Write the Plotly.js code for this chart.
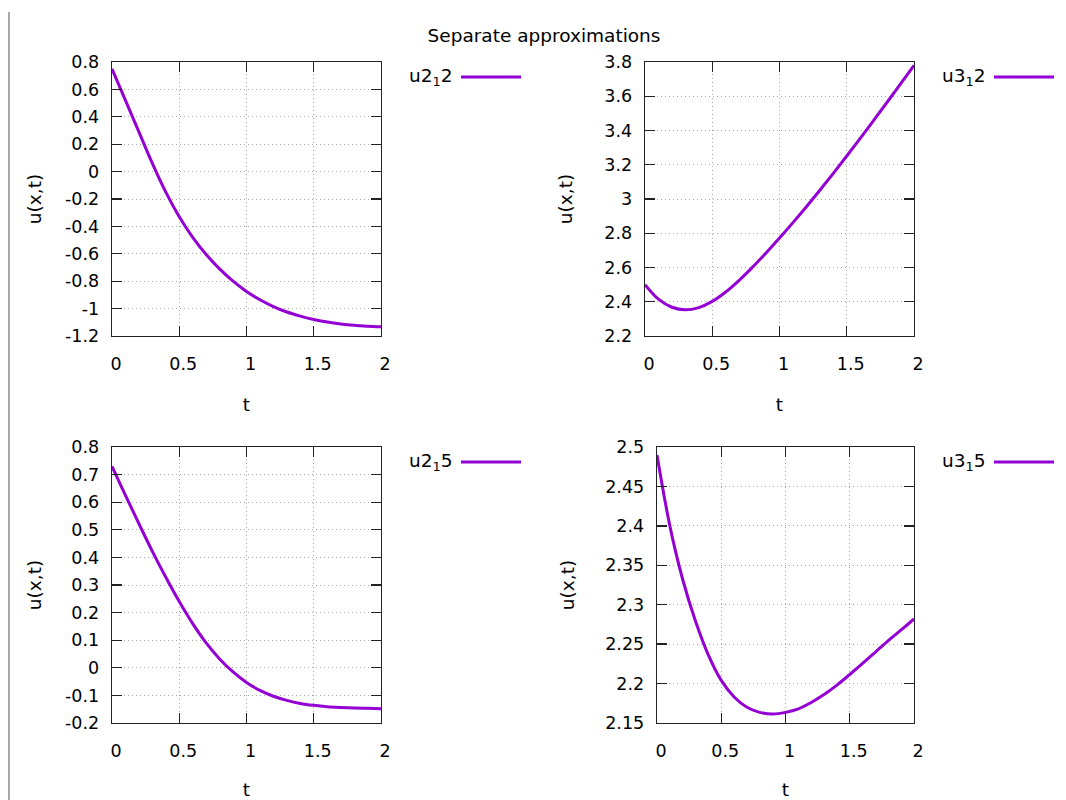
<!DOCTYPE html>
<html>
<head>
<meta charset="utf-8">
<script src="https://cdn.plot.ly/plotly-3.0.1.min.js"></script>
<style>
  html, body { margin: 0; padding: 0; background: #fff; }
  #chart { width: 1066px; height: 800px; }
</style>
</head>
<body>
<div id="chart"></div>
<script>
// time samples shared by all four panels
var t = [0, 0.1, 0.2, 0.3, 0.4, 0.5, 0.6, 0.7, 0.8, 0.9, 1.0,
         1.1, 1.2, 1.3, 1.4, 1.5, 1.6, 1.7, 1.8, 1.9, 2.0];

// values
var u212 = [0.75, 0.52, 0.29, 0.06, -0.15, -0.33, -0.48, -0.605, -0.71, -0.80, -0.875,
            -0.935, -0.985, -1.025, -1.055, -1.08, -1.098, -1.112, -1.122, -1.128, -1.132];
var u312 = [2.50, 2.415, 2.368, 2.353, 2.366, 2.402, 2.457, 2.525, 2.602, 2.685, 2.772,
            2.862, 2.955, 3.051, 3.15, 3.251, 3.354, 3.459, 3.565, 3.672, 3.78];
var u215 = [0.73, 0.625, 0.522, 0.422, 0.328, 0.24, 0.16, 0.09, 0.032, -0.015, -0.053,
            -0.082, -0.103, -0.118, -0.129, -0.136, -0.141, -0.144, -0.146, -0.147, -0.148];
var u315 = [2.490, 2.400, 2.332, 2.279, 2.236, 2.204, 2.183, 2.170, 2.1635, 2.1614, 2.1635,
            2.168, 2.176, 2.186, 2.198, 2.2115, 2.2255, 2.240, 2.2545, 2.268, 2.282];

var xTicks = [0, 0.5, 1, 1.5, 2];
var yTicks212 = [-1.2, -1, -0.8, -0.6, -0.4, -0.2, 0, 0.2, 0.4, 0.6, 0.8];
var yTicks312 = [2.2, 2.4, 2.6, 2.8, 3, 3.2, 3.4, 3.6, 3.8];
var yTicks215 = [-0.2, -0.1, 0, 0.1, 0.2, 0.3, 0.4, 0.5, 0.6, 0.7, 0.8];
var yTicks315 = [2.15, 2.2, 2.25, 2.3, 2.35, 2.4, 2.45, 2.5];

var names = ['u2<sub>1</sub>2', 'u3<sub>1</sub>2', 'u2<sub>1</sub>5', 'u3<sub>1</sub>5'];
var series = [u212, u312, u215, u315];

var W = 1066, H = 800;
function px(x) { return x / W; }
function py(y) { return 1 - y / H; }

var purple = '#9400d3';
var face = 'DejaVu Sans, Verdana, sans-serif';
var fnt = {family: face, size: 18.5, color: '#000'};
var tickFnt = {family: face, size: 17.5, color: '#000'};

var traces = series.map(function (s, i) {
    var n = i === 0 ? '' : String(i + 1);
    return {
        x: t, y: s, name: names[i],
        xaxis: 'x' + n, yaxis: 'y' + n,
        type: 'scatter', mode: 'lines',
        line: {color: purple, width: 3, shape: 'spline', smoothing: 1},
        showlegend: false
    };
});

var common = {
    ticks: 'inside', ticklen: 10, tickwidth: 1.3, tickcolor: '#222',
    showline: true, linecolor: '#222', linewidth: 1.3, mirror: 'ticks',
    showgrid: true, gridcolor: '#a8a8a8', griddash: '1px,3px', gridwidth: 1,
    zeroline: false, tickfont: tickFnt
};

function xax(dom, anchor, standoff) {
    return Object.assign({}, common, {
        domain: dom, anchor: anchor, range: [0, 2],
        tickvals: xTicks, ticktext: xTicks.map(String),
        ticklabelstandoff: 12, ticklabelshift: 4,
        title: {text: 't', font: fnt, standoff: standoff}
    });
}
function yax(dom, anchor, range, vals, standoff) {
    return Object.assign({}, common, {
        domain: dom, anchor: anchor, range: range,
        tickvals: vals, ticktext: vals.map(String),
        ticklabelstandoff: 8,
        title: {text: 'u(x,t)', font: fnt, standoff: standoff}
    });
}

var topDom = [py(336), py(62)];
var botDom = [py(723), py(447)];

var layout = {
    width: W, height: H,
    margin: {l: 0, r: 0, t: 0, b: 0},
    paper_bgcolor: '#fff', plot_bgcolor: '#fff',
    font: fnt,
    title: {text: 'Separate approximations', font: fnt,
            x: px(544), y: py(36), xanchor: 'center', yanchor: 'middle'},
    showlegend: false,
    xaxis: xax([px(112), px(381)], 'y', 24),
    yaxis: yax(topDom, 'x', [-1.2, 0.8], yTicks212, 18),
    xaxis2: xax([px(645), px(914)], 'y2', 24),
    yaxis2: yax(topDom, 'x2', [2.2, 3.8], yTicks312, 27),
    xaxis3: xax([px(112), px(381)], 'y3', 24),
    yaxis3: yax(botDom, 'x3', [-0.2, 0.8], yTicks215, 18),
    xaxis4: xax([px(657), px(914)], 'y4', 24),
    yaxis4: yax(botDom, 'x4', [2.15, 2.5], yTicks315, 25),
    shapes: [],
    annotations: []
};

// gnuplot-style keys: label on the left, line sample on the right
var keys = [[455, 77], [988, 77], [455, 462], [988, 462]];
keys.forEach(function (k, i) {
    layout.annotations.push({
        xref: 'paper', yref: 'paper', x: px(k[0]), y: py(k[1]),
        xanchor: 'right', yanchor: 'middle', showarrow: false,
        text: names[i], font: fnt
    });
    layout.shapes.push({
        type: 'line', xref: 'paper', yref: 'paper',
        x0: px(k[0] + 6), x1: px(k[0] + 66), y0: py(k[1]), y1: py(k[1]),
        line: {color: purple, width: 3}
    });
});

// thin grey window edge on the left
layout.shapes.push({
    type: 'line', xref: 'paper', yref: 'paper',
    x0: px(9), x1: px(9), y0: py(12), y1: 0,
    line: {color: '#8a8a8a', width: 1.5}
});

Plotly.newPlot('chart', traces, layout, {staticPlot: true});
</script>
</body>
</html>
